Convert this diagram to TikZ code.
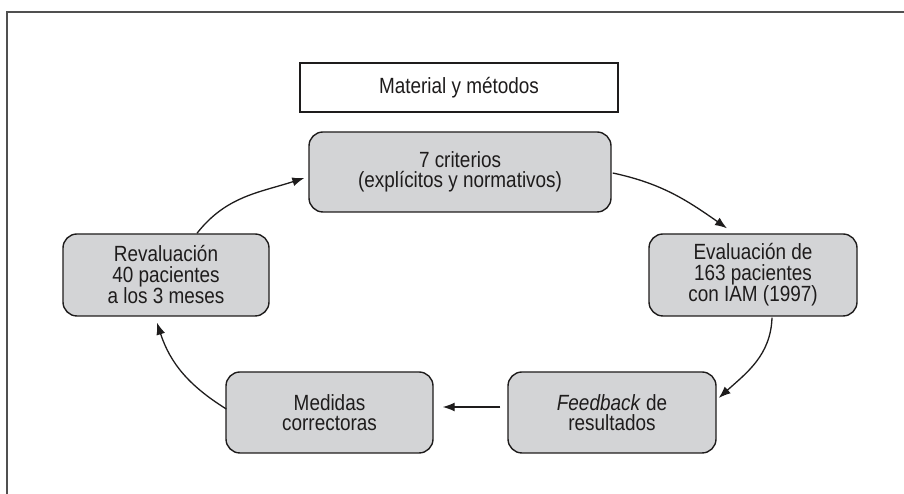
\documentclass[tikz,border=0pt]{standalone}
\usepackage{fontspec}
\setmainfont[FakeStretch=0.86]{Liberation Sans}
\usetikzlibrary{arrows.meta}
\definecolor{boxfill}{RGB}{211,212,214}
\definecolor{ink}{RGB}{30,28,28}
\definecolor{framec}{RGB}{80,80,80}
\tikzset{
  stepbox/.style={draw=ink, line width=1.4pt, fill=boxfill, rounded corners=14pt,
    minimum width=#1, align=center, text=ink, inner sep=0pt,
    font=\fontsize{22}{20.5}\selectfont},
  titlebox/.style={draw=ink, line width=1.2pt, fill=white, minimum width=318pt,
    minimum height=49pt, text=ink, font=\fontsize{22}{20.5}\selectfont},
  flow/.style={draw=ink, line width=1.3pt, -{Latex[length=12pt,width=9pt]}}
}
\begin{document}
\begin{tikzpicture}[x=1pt,y=1pt]
\useasboundingbox (0,0) rectangle (904,494);
\coordinate (ftr) at (904,482);
\coordinate (ftl) at (7,482);
\coordinate (fbl) at (7,0);
\draw[framec, line width=1.1pt] (ftr) -- (ftl) -- (fbl);

\node[titlebox] (title) at (459,406.5) {Material y métodos};
\node[stepbox=302pt, minimum height=80pt] (crit) at (460,322) {7 criterios\\(explícitos y normativos)};
\node[stepbox=208pt, minimum height=82pt] (eval) at (753,219) {Evaluación de\\163 pacientes\\con IAM (1997)};
\node[stepbox=208pt, minimum height=81pt] (feed) at (612,81.5) {\textit{Feedback} de\\resultados};
\node[stepbox=207pt, minimum height=81pt] (med) at (329.5,81.5) {Medidas\\correctoras};
\node[stepbox=206pt, minimum height=82pt] (rev) at (166,219) {Revaluación\\40 pacientes\\a los 3 meses};

\draw[flow] ([xshift=31pt]rev.north) to[out=52,in=198] ([xshift=-4pt,yshift=-6pt]crit.west);
\draw[flow] ([xshift=1pt,yshift=-1pt]crit.east) to[out=-12,in=145] ([xshift=-26pt,yshift=5pt]eval.north);
\draw[flow] ([xshift=19pt,yshift=-1pt]eval.south) to[out=-92,in=42] ([xshift=2pt,yshift=14.5pt]feed.east);
\draw[flow] ([xshift=-7pt,yshift=5.5pt]feed.west) -- ([xshift=9pt,yshift=5.5pt]med.east);
\draw[flow] ([xshift=1pt,yshift=3.5pt]med.west) to[out=148,in=-72] ([xshift=-9pt,yshift=-6pt]rev.south);
\end{tikzpicture}
\end{document}
